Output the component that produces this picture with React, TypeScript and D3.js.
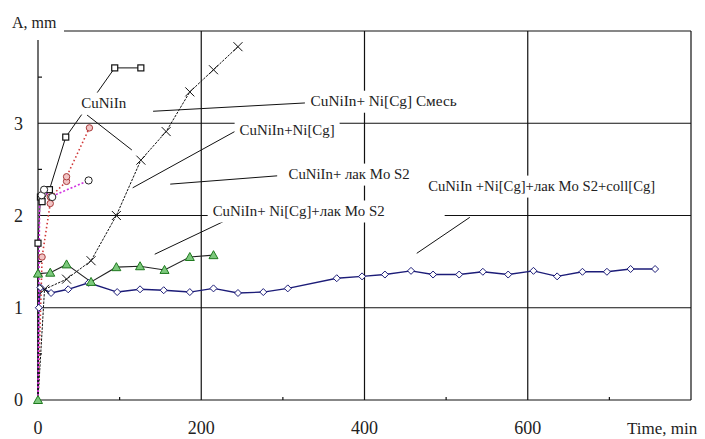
import React, { useEffect } from "react";
import * as d3 from "d3";

// ---- data (time in min, wear A in mm) ----
const diamondTime = [0, 1, 3, 16, 37, 62, 97, 125, 154, 186, 215, 245, 276, 306, 366, 397, 425, 457, 484, 516, 545, 576, 607, 636, 667, 697, 726, 756];
const diamondWear = [0, 1.0, 1.22, 1.16, 1.2, 1.27, 1.17, 1.2, 1.19, 1.17, 1.21, 1.16, 1.17, 1.21, 1.32, 1.34, 1.36, 1.4, 1.36, 1.36, 1.39, 1.36, 1.4, 1.34, 1.39, 1.39, 1.42, 1.42];

const triangleTime = [0, 0, 15, 35, 65, 96, 125, 155, 186, 215];
const triangleWear = [0, 1.37, 1.38, 1.47, 1.28, 1.44, 1.45, 1.41, 1.55, 1.57];

const crossTime = [0, 8, 35, 65, 96, 126, 157, 186, 215, 245];
const crossWear = [0, 1.2, 1.31, 1.51, 2.0, 2.6, 2.91, 3.34, 3.58, 3.83];

const squareTime = [0, 0, 3, 5, 14, 34, 94, 126];
const squareWear = [0, 1.7, 2.2, 2.15, 2.28, 2.85, 3.6, 3.6];

const redTime = [0, 5, 15, 15, 35, 35, 63];
const redWear = [0, 1.55, 2.13, 2.2, 2.37, 2.42, 2.95];

const pinkTime = [0, 2, 5, 15, 62];
const pinkWear = [0, 2.22, 2.28, 2.2, 2.38];

const yTicks = [0, 1, 2, 3];
const xTicks = [0, 200, 400, 600];
const yMinor = [0.5, 1.5, 2.5, 3.5];
const xMinor = [100, 300, 500, 700];

const labelTexts = [
  "CuNiIn",
  "CuNiIn+ Ni[Cg] Смесь",
  "CuNiIn+Ni[Cg]",
  "CuNiIn+ лак Mo S2",
  "CuNiIn+ Ni[Cg]+лак Mo S2",
  "CuNiIn +Ni[Cg]+лак Mo S2+coll[Cg]",
];
// label anchor (left, baseline) and leader ends, in data units
const labelAt: [number, number][] = [[53, 3.17], [334, 3.19], [247, 2.87], [307, 2.4], [214, 2.0], [478, 2.27]];
const leaders: [number, number, number, number][] = [
  [60, 3.09, 115, 2.71],
  [141, 3.13, 327, 3.22],
  [116, 2.3, 241, 2.91],
  [162, 2.34, 293, 2.43],
  [143, 1.58, 238, 1.98],
  [464, 1.59, 529, 1.98],
];
const labelWidth = [45, 146, 95, 121, 172, 227];

const W = 705;
const H = 439;
const left = 38, right = 691, top = 31, bottom = 400;
const serif = {
  fontFamily: '"Liberation Serif", "Times New Roman", Times, Tinos, "DejaVu Serif", "Noto Serif", FreeSerif, serif',
};

const zip = (t: number[], a: number[]) => t.map((v, i) => [v, a[i]] as [number, number]);

export default function App() {
  useEffect(() => {
    document.body.style.margin = "0";
  }, []);

  const x = d3.scaleLinear().domain([0, 800]).range([left, right]);
  const y = d3.scaleLinear().domain([0, 4]).range([bottom, top]);
  const line = d3.line<[number, number]>().x((d) => x(d[0])).y((d) => y(d[1]));

  const diamonds = zip(diamondTime, diamondWear);
  const triangles = zip(triangleTime, triangleWear);
  const crosses = zip(crossTime, crossWear);
  const squares = zip(squareTime, squareWear);
  const reds = zip(redTime, redWear);
  const pinks = zip(pinkTime, pinkWear);

  return (
    <svg width={W} height={H} style={{ display: "block", background: "#fff", ...serif }}>
      {/* grid */}
      <g stroke="#111" strokeWidth={1.2}>
        {[1, 2, 3].map((v) => (
          <line key={"h" + v} x1={left} x2={right} y1={y(v)} y2={y(v)} />
        ))}
        {[200, 400, 600].map((v) => (
          <line key={"v" + v} x1={x(v)} x2={x(v)} y1={top} y2={bottom} />
        ))}
        <line x1={left} x2={right} y1={top} y2={top} />
        <line x1={right} x2={right} y1={top} y2={bottom} />
        <line x1={left} x2={right} y1={bottom} y2={bottom} />
        <line x1={left} x2={left} y1={top} y2={bottom} />
        {yMinor.map((v) => (
          <line key={"ym" + v} x1={left} x2={left + 4} y1={y(v)} y2={y(v)} />
        ))}
        {xMinor.map((v) => (
          <line key={"xm" + v} x1={x(v)} x2={x(v)} y1={bottom} y2={bottom - 3} />
        ))}
      </g>

      {/* tick labels */}
      <g fontSize={18} fill="#222" style={serif}>
        {yTicks.map((v) => (
          <text key={"yt" + v} x={23} y={y(v)} dy="0.36em" textAnchor="end">{v}</text>
        ))}
        {xTicks.map((v) => (
          <text key={"xt" + v} x={x(v)} y={434} textAnchor="middle">{v}</text>
        ))}
        <text x={627} y={434} fontSize={17}>Time, min</text>
      </g>
      <rect x={0} y={8} width={64} height={32} fill="#fff" />
      <text x={12} y={28} fontSize={16} fill="#222" style={serif}>A, mm</text>

      {/* series */}
      <path d={line(diamonds) ?? ""} fill="none" stroke="#1c1c78" strokeWidth={1.4} />
      <path d={line(triangles) ?? ""} fill="none" stroke="#222" strokeWidth={1.1} />
      <path d={line(crosses) ?? ""} fill="none" stroke="#111" strokeWidth={1} strokeDasharray="2.5,1.2" />
      <path d={line(squares) ?? ""} fill="none" stroke="#111" strokeWidth={1} />
      <path d={line(reds) ?? ""} fill="none" stroke="#d03838" strokeWidth={1.6} strokeDasharray="1.5,2.5" />
      <path d={line(pinks) ?? ""} fill="none" stroke="#d030e0" strokeWidth={1.6} strokeDasharray="2,2" />

      {diamonds.slice(1).map((d, i) => (
        <path key={"d" + i} transform={`translate(${x(d[0])},${y(d[1])})`} d="M0,-3.5L3.5,0L0,3.5L-3.5,0Z" fill="#fff" stroke="#1c1c78" strokeWidth={1} />
      ))}
      {triangles.map((d, i) => (
        <path key={"t" + i} transform={`translate(${x(d[0])},${y(d[1])})`} d="M0,-4.5L4.5,3.5L-4.5,3.5Z" fill="#7cc87c" stroke="#1f7a1f" strokeWidth={1} />
      ))}
      {crosses.slice(1).map((d, i) => (
        <path key={"x" + i} transform={`translate(${x(d[0])},${y(d[1])})`} d="M-4.5,-4.5L4.5,4.5M4.5,-4.5L-4.5,4.5" stroke="#111" strokeWidth={1} />
      ))}
      {squares.slice(1).map((d, i) => (
        <rect key={"s" + i} x={x(d[0]) - 3} y={y(d[1]) - 3} width={6} height={6} fill="#fff" stroke="#111" strokeWidth={1.2} />
      ))}
      {reds.slice(1).map((d, i) => (
        <circle key={"r" + i} cx={x(d[0])} cy={y(d[1])} r={3.2} fill="#f2c4c4" stroke="#a83a3a" strokeWidth={1} />
      ))}
      {pinks.slice(1).map((d, i) => (
        <circle key={"p" + i} cx={x(d[0]) + (i === pinks.length - 2 ? 0 : 2)} cy={y(d[1])} r={3.6} fill="#fff" stroke="#222" strokeWidth={1} />
      ))}

      {/* annotations */}
      <g stroke="#111" strokeWidth={1}>
        {leaders.map((l, i) => (
          <line key={"l" + i} x1={x(l[0])} y1={y(l[1])} x2={x(l[2])} y2={y(l[3])} />
        ))}
      </g>
      {labelTexts.map((t, i) => {
        const lx = x(labelAt[i][0]);
        const ly = y(labelAt[i][1]);
        const extra = i === 4 ? 55 : 0;
        return (
          <g key={"lab" + i}>
            <rect x={lx - 5} y={ly - 15} width={labelWidth[i] + 10 + extra} height={22} fill="#fff" />
            <text x={lx} y={ly} fontSize={15} fill="#222" style={serif} textLength={labelWidth[i]} lengthAdjust="spacingAndGlyphs">
              {t}
            </text>
          </g>
        );
      })}
    </svg>
  );
}
